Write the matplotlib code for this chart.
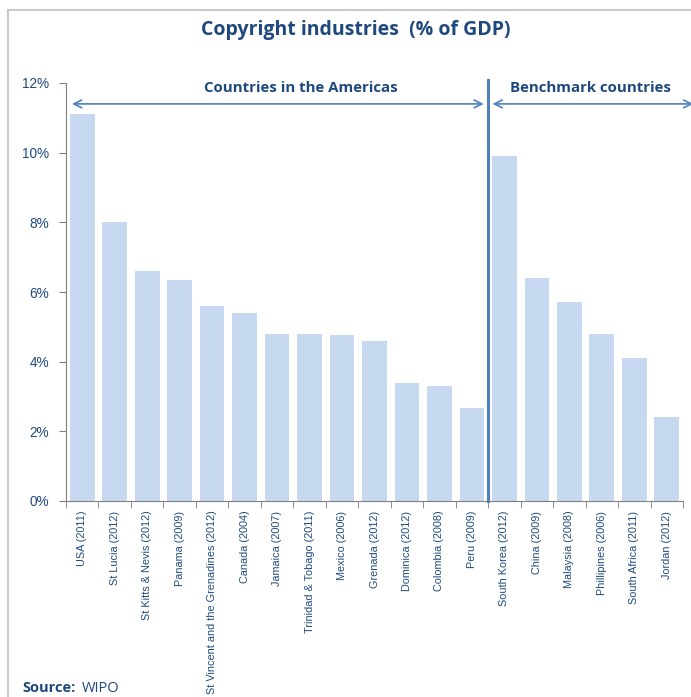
import matplotlib.pyplot as plt
from matplotlib.lines import Line2D
import numpy as np

countries = ['USA (2011)', 'St Lucia (2012)', 'St Kitts & Nevis (2012)', 'Panama (2009)',
             'St Vincent and the Grenadines (2012)', 'Canada (2004)', 'Jamaica (2007)',
             'Trinidad & Tobago (2011)', 'Mexico (2006)', 'Grenada (2012)', 'Dominica (2012)',
             'Colombia (2008)', 'Peru (2009)', 'South Korea (2012)', 'China (2009)',
             'Malaysia (2008)', 'Phillipines (2006)', 'South Africa (2011)', 'Jordan (2012)']
share = [11.1, 8.0, 6.6, 6.35, 5.6, 5.4, 4.8, 4.8, 4.77, 4.6, 3.4, 3.3, 2.67,
         9.9, 6.4, 5.7, 4.8, 4.1, 2.4]
n_americas = 13
yticks = [0, 2, 4, 6, 8, 10, 12]

navy = '#1F497D'
line_blue = '#4F81BD'
bar_col = '#C6D9F1'
narrow = ['Liberation Sans', 'DejaVu Sans']

fig = plt.figure(figsize=(6.91, 6.97), dpi=100)
ax = fig.add_axes([66/691, 1-501/697, 617/691, 418/697])

x = np.arange(len(countries))
ax.bar(x, share, width=0.76, color=bar_col, zorder=2)
ax.set_xlim(-0.5, len(countries)-0.5)
ax.set_ylim(0, 12)

ax.set_yticks(yticks)
ax.set_yticklabels([f'{t}%' for t in yticks], color=navy, fontsize=9.8, family=narrow)
ax.set_xticks(x)
ax.set_xticklabels(countries, rotation=90, color=navy, fontsize=7.8, family=narrow)
ax.tick_params(axis='x', length=0, pad=7)
ax.set_xticks(np.arange(-0.5, len(countries)), minor=True)
ax.tick_params(axis='x', which='minor', length=5, color='#7F7F7F', direction='out')
ax.tick_params(axis='y', length=5, color='#7F7F7F', pad=7)
for s in ['top', 'right']:
    ax.spines[s].set_visible(False)
for s in ['left', 'bottom']:
    ax.spines[s].set_color('#7F7F7F')
    ax.spines[s].set_linewidth(0.8)

# divider between the two country groups
div = n_americas - 0.5
ax.plot([div, div], [0, 12.1], color=line_blue, lw=2.2, clip_on=False, zorder=4)

arrow_y = 11.4
ax.annotate('', xy=(-0.4, arrow_y), xytext=(div-0.05, arrow_y),
            arrowprops=dict(arrowstyle='<->', color=line_blue, lw=1.2, mutation_scale=14),
            annotation_clip=False)
ax.annotate('', xy=(div+0.05, arrow_y), xytext=(len(countries)-0.1, arrow_y),
            arrowprops=dict(arrowstyle='<->', color=line_blue, lw=1.2, mutation_scale=14),
            annotation_clip=False)
ax.text(6.74, 11.85, 'Countries in the Americas', ha='center', va='center',
        color=navy, fontsize=10.8, fontweight='bold', family='Open Sans')
ax.text(15.65, 11.85, 'Benchmark countries', ha='center', va='center',
        color=navy, fontsize=10.8, fontweight='bold', family='Open Sans')

fig.text(356/691, 1-30/697, 'Copyright industries  (% of GDP)', ha='center', va='center',
         color=navy, fontsize=14, fontweight='bold', family='Open Sans')
fig.text(22/691, 1-688/697, 'Source:', ha='left', va='center', color=navy,
         fontsize=10.5, fontweight='bold', family='Open Sans')
fig.text(82/691, 1-688/697, 'WIPO', ha='left', va='center', color=navy,
         fontsize=10.5, family='Open Sans')

# chart frame
fig.add_artist(Line2D([8/691, 8/691], [0, 1-10/697], color='#BFBFBF', lw=1.2))
fig.add_artist(Line2D([8/691, 1], [1-10/697, 1-10/697], color='#BFBFBF', lw=1.2))

fig.savefig('out.png', dpi=100)
